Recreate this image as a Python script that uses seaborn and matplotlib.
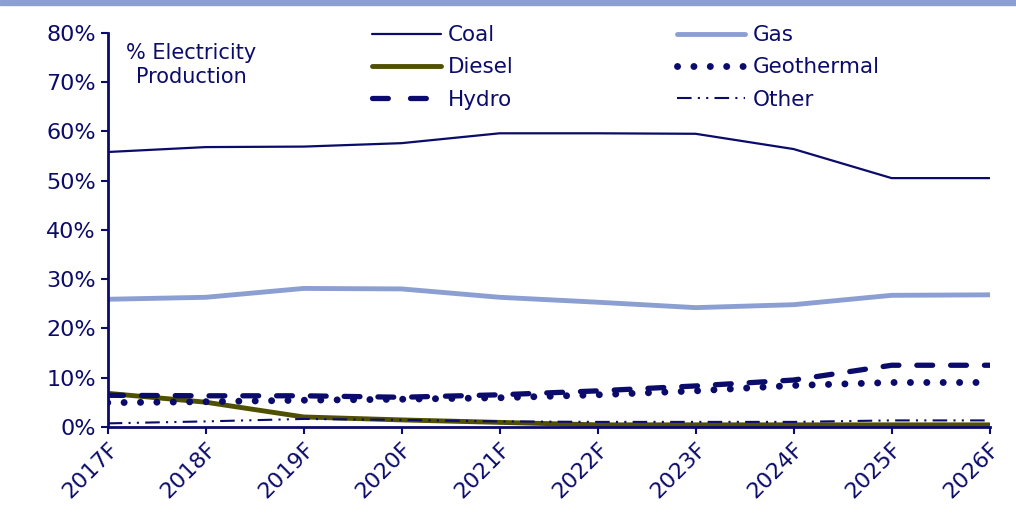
import pandas as pd
import matplotlib
matplotlib.use('Agg')
import matplotlib.pyplot as plt
import seaborn as sns

# Values (% of electricity production)
years = ['2017F', '2018F', '2019F', '2020F', '2021F',
         '2022F', '2023F', '2024F', '2025F', '2026F']
coal = [55.8, 56.8, 56.9, 57.6, 59.6, 59.6, 59.5, 56.4, 50.5, 50.5]
gas = [25.9, 26.3, 28.1, 28.0, 26.3, 25.3, 24.2, 24.8, 26.7, 26.8]
diesel = [6.8, 5.0, 2.0, 1.4, 0.9, 0.4, 0.4, 0.4, 0.4, 0.4]
geothermal = [4.9, 5.1, 5.4, 5.6, 5.9, 6.5, 7.3, 8.4, 9.0, 9.0]
hydro = [6.4, 6.3, 6.3, 6.0, 6.5, 7.3, 8.3, 9.5, 12.5, 12.5]
other = [0.7, 1.1, 1.6, 1.4, 1.1, 1.0, 1.0, 1.0, 1.3, 1.3]

series = {'Coal': coal, 'Diesel': diesel, 'Hydro': hydro,
          'Gas': gas, 'Geothermal': geothermal, 'Other': other}

data = pd.DataFrame({'Year': years, **series})
data = data.melt(id_vars='Year', var_name='Source', value_name='Share')

navy = '#0b0b6b'
styles = {
    'Coal': dict(color=navy, lw=1.6, ls='-', cap='butt'),
    'Diesel': dict(color='#4f5000', lw=3.5, ls='-', cap='butt'),
    'Hydro': dict(color=navy, lw=3.8, ls=(0, (3.0, 3.4)), cap='round'),
    'Gas': dict(color='#8c9fd2', lw=3.5, ls='-', cap='butt'),
    'Geothermal': dict(color=navy, lw=5.0, ls=(0, (0.01, 2.35)), cap='round'),
    'Other': dict(color=navy, lw=1.5, ls=(0, (7, 3, 1, 3, 1, 3)), cap='butt'),
}

sns.set_style('white')
plt.rcParams['font.family'] = ['DejaVu Sans']

fig = plt.figure(figsize=(10.16, 5.13), dpi=100)
ax = fig.add_axes([0.106, 0.168, 0.868, 0.768])

# draw order: background lines first
for name in ['Gas', 'Diesel', 'Coal', 'Other', 'Geothermal', 'Hydro']:
    st = styles[name]
    sub = data[data['Source'] == name]
    sns.lineplot(data=sub, x='Year', y='Share', ax=ax, color=st['color'],
                 linewidth=st['lw'], linestyle=st['ls'], label=name,
                 sort=False, dash_capstyle=st['cap'])

ax.set_xlim(0, len(years) - 1)
ax.set_ylim(0, 80)
ax.set_yticks(range(0, 81, 10))
ax.set_yticklabels([f'{v}%' for v in range(0, 81, 10)])
ax.set_xlabel('')
ax.set_ylabel('')

for s in ['top', 'right']:
    ax.spines[s].set_visible(False)
for s in ['left', 'bottom']:
    ax.spines[s].set_color(navy)
    ax.spines[s].set_linewidth(2.0)

ax.tick_params(axis='both', colors=navy, labelsize=16, direction='out',
               length=5, width=1.5, left=True, bottom=True)
plt.setp(ax.get_xticklabels(), rotation=45, ha='right', rotation_mode='anchor')

ax.text(0.095, 0.975, '% Electricity\nProduction', transform=ax.transAxes,
        ha='center', va='top', fontsize=15, color=navy, linespacing=1.3)

handles, labels = ax.get_legend_handles_labels()
lookup = dict(zip(labels, handles))
order = ['Coal', 'Diesel', 'Hydro', 'Gas', 'Geothermal', 'Other']
leg = ax.legend([lookup[k] for k in order], order, ncol=2, frameon=False,
                loc='upper left', bbox_to_anchor=(0.278, 1.068),
                fontsize=15.5, handlelength=3.2, handletextpad=0.33,
                columnspacing=7.55, labelspacing=0.56, labelcolor=navy)
# two clean dashes in the Hydro legend sample
leg.get_lines()[2].set_linestyle((0, (3.0, 4.2)))

# thin colored band along the top edge
fig.patches.append(plt.Rectangle((0, 0.991), 1, 0.009, transform=fig.transFigure,
                                 color='#8c9fd2', zorder=0))

fig.savefig('out.png', dpi=100)
